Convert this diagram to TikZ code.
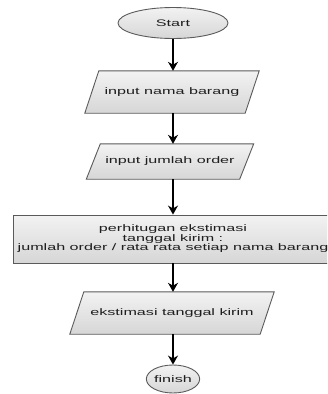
\documentclass[tikz,border=0pt]{standalone}
\usepackage{fontspec}
\setmainfont{Liberation Sans}[FakeStretch=1.7]
\usetikzlibrary{shapes.geometric,arrows.meta,backgrounds}
\definecolor{shapeline}{RGB}{90,90,90}
\definecolor{txt}{RGB}{30,30,30}
\begin{document}
\begin{tikzpicture}[x=1pt,y=-1pt,
  skin/.style={draw=shapeline, line width=0.9pt, top color=gray!10, bottom color=gray!32},
  label/.style={text=txt, font=\fontsize{9.5}{9.5}\selectfont, inner sep=0pt},
  term/.style={skin, label, ellipse},
  iobox/.style={label, rectangle},
  proc/.style={skin, label, rectangle, align=center},
  flow/.style={-{Stealth[length=9pt,width=10pt]}, line width=1.2pt, black}]
\clip (0,0) rectangle (327,394);
\node[term, minimum width=110, minimum height=31] (start) at (173,23) {Start};
\node[iobox, minimum width=160, minimum height=42] (in1) at (172,92) {input nama barang};
\node[iobox, minimum width=153, minimum height=35] (in2) at (170,161.5) {input jumlah order};
\node[proc, minimum width=320, minimum height=48] (calc) at (173,239) {perhitugan ekstimasi\\tanggal kirim :\\jumlah order / rata rata setiap nama barang};
\node[iobox, minimum width=190, minimum height=42] (out) at (172,313) {ekstimasi tanggal kirim};
\node[term, minimum width=53, minimum height=28] (finish) at (173,379) {finish};
\begin{scope}[on background layer]
  \foreach \n in {in1,in2,out}{
    \path[skin] ([xshift=7pt]\n.north west) -- ([xshift=7pt]\n.north east)
      -- ([xshift=-7pt]\n.south east) -- ([xshift=-7pt]\n.south west) -- cycle;
  }
\end{scope}
\draw[flow] (start.south) -- (start.south |- in1.north);
\draw[flow] (start.south |- in1.south) -- (start.south |- in2.north);
\draw[flow] (start.south |- in2.south) -- (calc.north);
\draw[flow] (calc.south) -- (calc.south |- out.north);
\draw[flow] (calc.south |- out.south) -- (finish.north);
\end{tikzpicture}
\end{document}
